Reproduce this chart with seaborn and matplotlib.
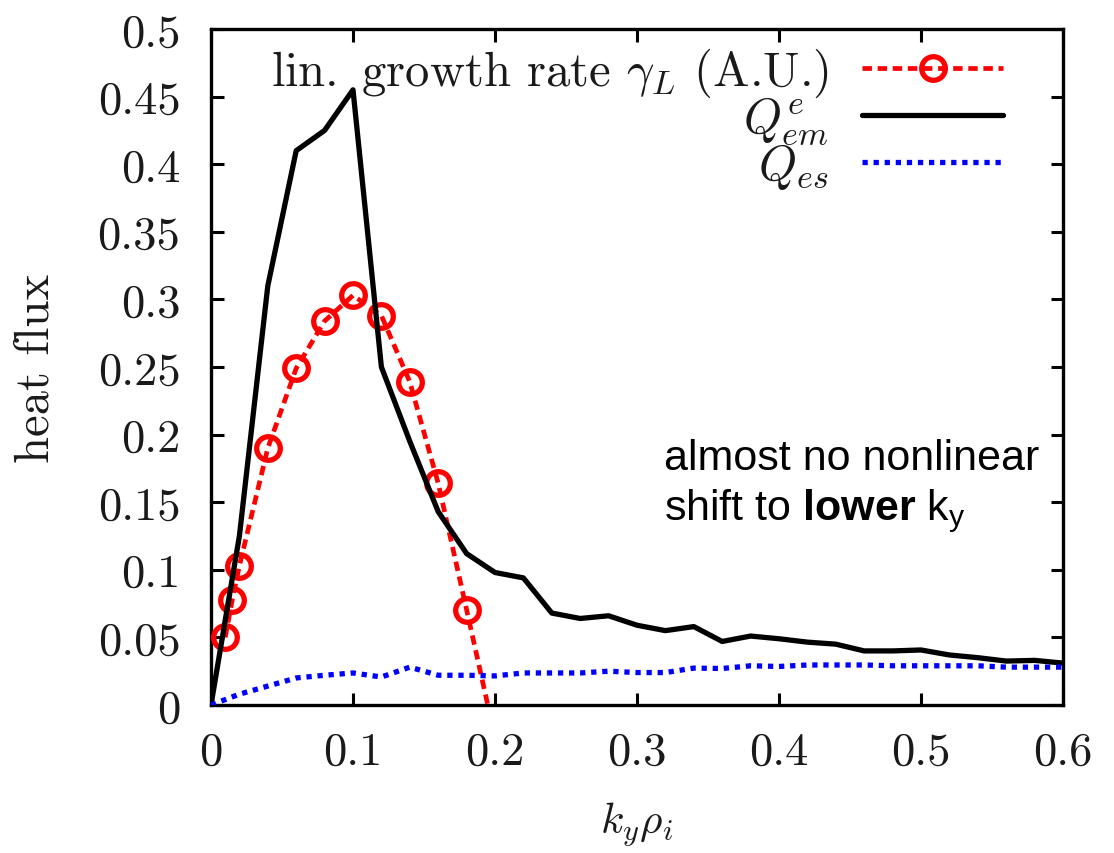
import matplotlib
matplotlib.use("Agg")
import matplotlib.pyplot as plt
import pandas as pd
import seaborn as sns

# wavenumber grid of the nonlinear flux spectra
ky_flux = [0.00, 0.02, 0.04, 0.06, 0.08, 0.10, 0.12, 0.14, 0.16, 0.18,
           0.20, 0.22, 0.24, 0.26, 0.28, 0.30, 0.32, 0.34, 0.36, 0.38,
           0.40, 0.42, 0.44, 0.46, 0.48, 0.50, 0.52, 0.54, 0.56, 0.58, 0.60]
# electromagnetic electron heat flux
q_em = [0.000, 0.125, 0.310, 0.410, 0.425, 0.455, 0.250, 0.195, 0.143, 0.112,
        0.098, 0.094, 0.068, 0.064, 0.066, 0.059, 0.055, 0.058, 0.047, 0.051,
        0.049, 0.0465, 0.045, 0.040, 0.040, 0.0407, 0.037, 0.035, 0.0325, 0.033, 0.031]
# electrostatic heat flux
q_es = [0.000, 0.008, 0.014, 0.020, 0.022, 0.0237, 0.0207, 0.028, 0.022, 0.022,
        0.0215, 0.0237, 0.0237, 0.0237, 0.025, 0.024, 0.024, 0.0273, 0.027, 0.029,
        0.0285, 0.0296, 0.0296, 0.0296, 0.029, 0.029, 0.029, 0.029, 0.028, 0.028, 0.028]

# linear growth rate scan (arbitrary units)
ky_growth = [0.010, 0.015, 0.020, 0.040, 0.060, 0.080, 0.100, 0.120, 0.140,
             0.160, 0.180, 0.200]
gamma_l = [0.050, 0.078, 0.103, 0.190, 0.249, 0.284, 0.303, 0.288, 0.239,
           0.164, 0.0705, -0.024]

x_ticks = [0, 0.1, 0.2, 0.3, 0.4, 0.5, 0.6]
x_tick_labels = ["0", "0.1", "0.2", "0.3", "0.4", "0.5", "0.6"]
y_ticks = [0, 0.05, 0.1, 0.15, 0.2, 0.25, 0.3, 0.35, 0.4, 0.45, 0.5]
y_tick_labels = ["0", "0.05", "0.1", "0.15", "0.2", "0.25", "0.3", "0.35",
                 "0.4", "0.45", "0.5"]

sns.set_theme(style="white")
plt.rcParams.update({
    "font.family": "cmr10",
    "mathtext.fontset": "cm",
    "axes.formatter.use_mathtext": True,
    "axes.unicode_minus": False,
    "mathtext.rm": "Liberation Sans",
    "mathtext.bf": "Liberation Sans:bold",
    "mathtext.it": "Liberation Sans:italic",
})

flux_df = pd.DataFrame({"ky": ky_flux, "q_em": q_em, "q_es": q_es})
growth_df = pd.DataFrame({"ky": ky_growth, "gamma": gamma_l})

fig = plt.figure(figsize=(11.14, 8.54), dpi=100)
ax = fig.add_axes([211 / 1114, 148 / 854, 852 / 1114, 676 / 854])

sns.lineplot(data=growth_df, x="ky", y="gamma", ax=ax, color="#ff0000",
             linewidth=3.4, linestyle=(0, (2.0, 1.2)), marker="o",
             markersize=17, markerfacecolor="none", markeredgecolor="#ff0000",
             markeredgewidth=3.8, estimator=None, sort=False, zorder=3,
             label=r"lin.$\,$ growth rate $\gamma_L$ (A.U.)")
sns.lineplot(data=flux_df, x="ky", y="q_em", ax=ax, color="black",
             linewidth=3.8, estimator=None, sort=False, zorder=4,
             label=r"$Q^e_{em}$")
sns.lineplot(data=flux_df, x="ky", y="q_es", ax=ax, color="#0000ff",
             linewidth=3.8, linestyle=(0, (1.0, 1.1)), estimator=None,
             sort=False, zorder=5, label=r"$Q_{es}$")

ax.set_xlim(0, 0.6)
ax.set_ylim(0, 0.5)
ax.set_xticks(x_ticks)
ax.set_xticklabels(x_tick_labels)
ax.set_yticks(y_ticks)
ax.set_yticklabels(y_tick_labels)
ax.tick_params(axis="both", which="major", direction="in", length=9,
               width=2.2, color="black", labelsize=33.5, labelcolor="#1a1a1a",
               top=True, right=True, bottom=True, left=True)
ax.tick_params(axis="x", pad=19)
ax.tick_params(axis="y", pad=22)
for side in ax.spines.values():
    side.set_visible(True)
    side.set_color("black")
    side.set_linewidth(2.4)

ax.set_xlabel(r"$k_y\rho_i$", fontsize=31, labelpad=19, color="#1a1a1a")
ax.set_ylabel("heat flux", fontsize=35, labelpad=28, color="#1a1a1a")

leg = ax.legend(loc="upper right", bbox_to_anchor=(0.93, 0.975),
                bbox_transform=ax.transAxes, frameon=False, markerfirst=False,
                fontsize=35, handlelength=2.9, handletextpad=0.7,
                labelspacing=-0.1, borderpad=0.0, borderaxespad=0.0,
                numpoints=1)
for txt in leg.get_texts():
    txt.set_color("#1a1a1a")

note_kw = dict(transform=ax.transAxes, fontsize=31, family="Liberation Sans",
               math_fontfamily="custom", color="black", ha="left",
               va="baseline")
ax.text(0.532, 0.349, "almost no nonlinear", **note_kw)
ax.text(0.532, 0.275, r"shift to $\mathbf{lower}$ $\mathrm{k}_\mathrm{y}$",
        **note_kw)

fig.savefig("out.png", dpi=100)
